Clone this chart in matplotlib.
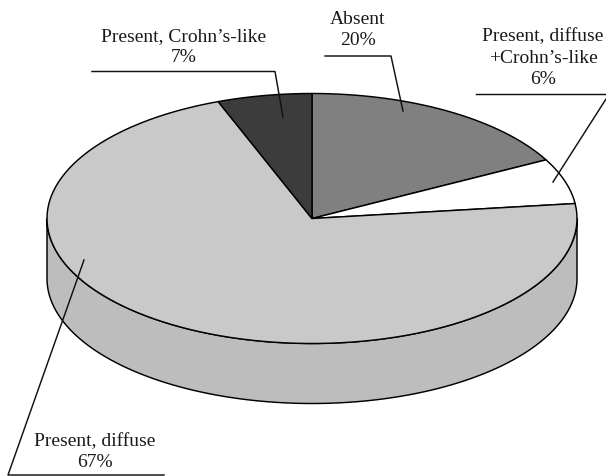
import numpy as np
import matplotlib
matplotlib.use('Agg')
from matplotlib import pyplot as plt
from matplotlib.patches import Polygon

labels = ['Absent', "Present, diffuse\n+Crohn\u2019s-like", 'Present, diffuse', "Present, Crohn\u2019s-like"]
values = [20, 6, 67, 7]
colors = ['#808080', '#ffffff', '#c9c9c9', '#3c3c3c']

# label anchor (center x, baseline of last line), then the leader polyline
label_pos = [(358, 45), (543, 84), (95, 467), (184, 62)]
leaders = [
	[(325, 57), (391, 57), (403, 112)],
	[(476, 95), (606, 95)],
	[(164, 476), (8, 476), (84, 261)],
	[(92, 72.5), (275, 72.5), (283, 118)],
]
extra_leader = [(606, 100), (553, 183)]

cx, cy = 312, 219.5
rx, ry = 265, 125
depth = 60
side_color = '#bdbdbd'

def view_angle(a):
	# foreshortening of the tilted disc, angle in degrees clockwise from 12 o'clock
	return a - 10.5*np.sin(np.radians(a))

def rim(a):
	t = np.radians(view_angle(a))
	return np.column_stack((cx + rx*np.sin(t), cy - ry*np.cos(t)))

fig = plt.figure(figsize=(6.06, 4.77), dpi=100)
ax = fig.add_axes([0, 0, 1, 1])
ax.set_xlim(0, 606)
ax.set_ylim(477, 0)
ax.axis('off')

# side wall, front half only
t = np.radians(np.linspace(90, 270, 200))
top_edge = np.column_stack((cx + rx*np.sin(t), cy - ry*np.cos(t)))
bottom_edge = top_edge[::-1] + [0, depth]
ax.add_patch(Polygon(np.vstack((top_edge, bottom_edge)), closed=True, fc=side_color, ec='black', lw=1.05, zorder=1))

# top face wedges
edges = np.cumsum([0] + values)/sum(values)*360
for i in range(len(values)):
	arc = rim(np.linspace(edges[i], edges[i+1], 120))
	ax.add_patch(Polygon(np.vstack(([[cx, cy]], arc)), closed=True, fc=colors[i], ec='black', lw=1.05, joinstyle='round', zorder=2))

for line in leaders + [extra_leader]:
	xy = np.array(line)
	ax.plot(xy[:, 0], xy[:, 1], color='#111111', lw=1.05, zorder=3, clip_on=False)

for i in range(len(values)):
	ax.text(label_pos[i][0], label_pos[i][1], labels[i] + '\n' + str(values[i]) + '%', ha='center', va='baseline',
		family='Liberation Serif', fontsize=14, color='#1a1a1a', linespacing=1.33, zorder=4)

fig.savefig('out.png', dpi=100)
